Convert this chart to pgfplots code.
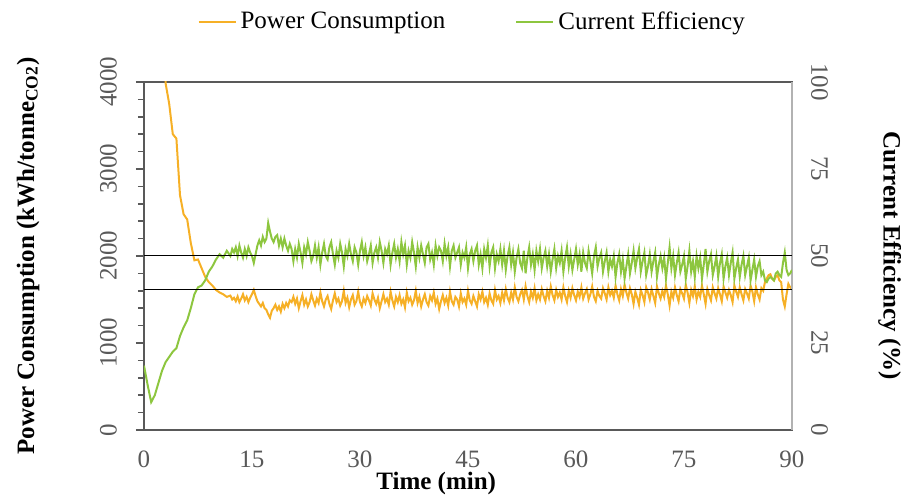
\documentclass[border=0pt]{standalone}
\usepackage{fontspec}
\setmainfont{Liberation Serif}
\usepackage{pgfplots}
\usepackage{pgfplotstable}
\pgfplotsset{compat=1.18}
\definecolor{pcOrange}{RGB}{246,176,38}
\definecolor{ceGreen}{RGB}{141,198,63}
\definecolor{axGray}{RGB}{89,89,89}

% time (min), power consumption (kWh/t CO2), current efficiency (%)
\pgfplotstableread{
t P E
0.0 9000 18.5
0.5 10500 13
1.0 11500 8
1.5 9500 10
2.0 7000 13.5
2.5 5200 17
3.0 3985 19.5
3.5 3750 21
4.0 3400 22.5
4.5 3350 23.5
5.0 2700 27
5.5 2480 29.5
6.0 2420 31.5
6.5 2150 35
7.0 1950 39
7.5 1960 41
8.0 1860 41.5
8.5 1760 43
9.0 1700 45.5
9.5 1660 47
10.0 1610 49
10.5 1580 50.5
11.0 1560 49.5
11.5 1530 51.5
12.00 1545 50
12.25 1500 52
12.50 1520 51
12.75 1480 52.5
13.00 1535 50
13.25 1470 53
13.50 1510 51
13.75 1560 49.5
14.00 1490 52
14.25 1530 50
14.50 1470 52.5
14.75 1520 51
15.00 1560 50
15.25 1610 48
15.50 1540 50.5
15.75 1480 53
16.00 1450 54.5
16.25 1420 53
16.50 1460 55.5
16.75 1400 54
17.00 1380 55
17.25 1330 59.5
17.50 1290 57
17.75 1370 55
18.00 1400 54
18.25 1440 55.5
18.50 1380 56
18.75 1420 53
19.00 1360 55
19.25 1450 52.5
19.50 1400 55
19.75 1460 53
20.00 1420 51.5
20.25 1490 53.5
20.50 1470 52
20.75 1530 48.5
21.00 1450 52
21.25 1510 49.5
21.50 1400 53.5
21.75 1480 51
22.00 1550 48
22.25 1440 52.5
22.50 1500 50.5
22.75 1420 54
23.00 1470 51.5
23.25 1560 48.5
23.50 1490 50
23.75 1430 53
24.00 1510 49.5
24.25 1460 52.5
24.50 1580 47.5
24.75 1480 51
25.00 1420 53.5
25.25 1500 50
25.50 1540 49
25.75 1450 52.5
26.00 1390 54
26.25 1490 50.5
26.50 1570 47.5
26.75 1470 51.5
27.00 1510 49.5
27.25 1430 53.5
27.50 1480 51
27.75 1600 47
28.00 1460 52
28.25 1520 50
28.50 1410 53.5
28.75 1500 50.5
29.00 1550 48.5
29.25 1440 52.5
29.50 1480 51
29.75 1590 47.5
30.00 1470 51.5
30.25 1420 54
30.50 1510 50
30.75 1460 52.5
31.00 1540 48.5
31.25 1490 50.5
31.50 1430 53
31.75 1570 48
32.00 1500 51
32.25 1450 52.5
32.50 1520 49.5
32.75 1400 54
33.00 1480 51.5
33.25 1560 48
33.50 1470 52
33.75 1510 50.5
34.00 1440 53
34.25 1590 47.5
34.50 1490 51
34.75 1420 53.5
35.00 1530 49.5
35.25 1470 52
35.50 1550 48.5
35.75 1450 54
36.00 1500 50.5
36.25 1410 53
36.50 1580 47.5
36.75 1480 51.5
37.00 1520 49.5
37.25 1440 54
37.50 1490 51
37.75 1600 47
38.00 1460 52.5
38.25 1530 49.5
38.50 1420 53
38.75 1500 50.5
39.00 1560 48
39.25 1470 52.5
39.50 1430 53.5
39.75 1540 49
40.00 1490 51
40.25 1580 47.5
40.50 1450 53
40.75 1510 50
41.00 1390 52.5
41.25 1480 51.5
41.50 1550 48.5
41.75 1460 53.5
42.00 1520 50
42.25 1430 52.5
42.50 1590 47
42.75 1480 51.5
43.00 1440 53
43.25 1530 49.5
43.50 1500 51
43.75 1420 52.5
44.00 1570 47.5
44.25 1470 51
44.50 1510 49.5
44.75 1440 52.5
45.00 1600 46.5
45.25 1490 50.5
45.50 1450 52
45.75 1540 48.5
46.00 1480 51.5
46.25 1420 53
46.50 1560 47.5
46.75 1500 50.5
47.00 1590 46.5
47.25 1470 52
47.50 1520 49.5
47.75 1440 53
48.00 1570 47
48.25 1490 51
48.50 1450 52.5
48.75 1610 46.5
49.00 1500 50.5
49.25 1540 48.5
49.50 1460 52
49.75 1580 47.5
50.00 1490 51.5
50.25 1620 46
50.50 1520 50
50.75 1470 52.5
51.00 1580 47.5
51.25 1500 51
51.50 1640 45.5
51.75 1530 49.5
52.00 1480 52
52.25 1560 48
52.50 1610 46.5
52.75 1500 51.5
53.00 1650 45
53.25 1540 49.5
53.50 1470 52.5
53.75 1590 47.5
54.00 1520 50.5
54.25 1630 46
54.50 1490 51.5
54.75 1560 48.5
55.00 1500 52
55.25 1620 46.5
55.50 1540 49.5
55.75 1480 51.5
56.00 1600 47
56.25 1520 50.5
56.50 1650 45.5
56.75 1550 49
57.00 1490 52
57.25 1610 46.5
57.50 1530 50
57.75 1580 48
58.00 1500 51.5
58.25 1640 45.5
58.50 1540 49.5
58.75 1470 52.5
59.00 1600 47
59.25 1520 50.5
59.50 1630 46
59.75 1550 49
60.00 1490 52
60.25 1590 47.5
60.50 1530 50.5
60.75 1640 45.5
61.00 1510 51
61.25 1570 48
61.50 1620 46.5
61.75 1500 51.5
62.00 1560 48.5
62.25 1650 45
62.50 1530 50
62.75 1480 52.5
63.00 1600 47
63.25 1540 49.5
63.50 1510 51
63.75 1630 45.5
64.00 1570 48.5
64.25 1500 51
64.50 1640 45.5
64.75 1550 49
65.00 1600 47
65.25 1520 50
65.50 1660 44
65.75 1560 48
66.00 1490 50.5
66.25 1620 45.5
66.50 1540 49
66.75 1670 43.5
67.00 1580 47
67.25 1510 50.5
67.50 1630 45
67.75 1560 48
68.00 1450 51.5
68.25 1590 46.5
68.50 1520 49.5
68.75 1440 52
69.00 1610 45.5
69.25 1550 48.5
69.50 1470 51
69.75 1640 44.5
70.00 1580 47
70.25 1500 50.5
70.50 1620 45.5
70.75 1540 48.5
71.00 1460 51
71.25 1650 44
71.50 1570 47.5
71.75 1510 50
72.00 1600 46.5
72.25 1530 49.5
72.50 1660 43.5
72.75 1560 48
73.00 1430 52.5
73.25 1590 46.5
73.50 1520 50
73.75 1640 44.5
74.00 1550 48
74.25 1480 51
74.50 1620 45.5
74.75 1570 47.5
75.00 1510 50
75.25 1670 43.5
75.50 1580 47
75.75 1460 51.5
76.00 1610 45.5
76.25 1540 48.5
76.50 1650 44
76.75 1500 50
77.00 1590 46.5
77.25 1530 49.5
77.50 1660 43.5
77.75 1560 47.5
78.00 1450 52
78.25 1620 45.5
78.50 1550 48.5
78.75 1490 50.5
79.00 1640 44.5
79.25 1570 47
79.50 1510 50
79.75 1630 44
80.00 1560 48
80.25 1480 50.5
80.50 1650 43.5
80.75 1580 47
81.00 1520 49.5
81.25 1610 44.5
81.50 1550 48
81.75 1470 51
82.00 1660 43.5
82.25 1590 46.5
82.50 1530 49
82.75 1640 44
83.00 1560 47.5
83.25 1490 50
83.50 1620 44.5
83.75 1570 47
84.00 1510 49.5
84.25 1660 43
84.50 1590 46
84.75 1480 49
85.00 1640 44
85.25 1560 47
85.50 1500 48.5
85.75 1630 44.5
86.00 1600 45.5
86.25 1700 43
86.50 1740 42.5
86.75 1780 43.5
87.00 1790 44
87.25 1740 43.5
87.50 1720 43
87.75 1760 45
88.00 1780 45.5
88.25 1720 44.5
88.50 1700 44
88.75 1500 48
89.00 1420 51
89.25 1560 46
89.50 1680 44.5
89.75 1640 45
90.00 1620 46
}\runtable

\begin{document}
\begin{tikzpicture}
\pgfplotsset{
  every axis/.append style={
    at={(0,0)}, anchor=south west, scale only axis,
    width=324pt, height=174pt,
    xmin=0, xmax=90,
    font=\fontsize{12.5}{14}\selectfont,
    /pgf/number format/assume math mode=true,
    /pgf/number format/1000 sep={},
    tick label style={color=axGray},
  },
}
\begin{axis}[
    ymin=0, ymax=4000,
    xtick={0,15,...,90},
    ytick={0,1000,...,4000},
    minor y tick num=4,
    ytick pos=left,
    xtick style={draw=none},
    tick align=outside,
    major tick length=4pt,
    minor tick length=3pt,
    ytick style={color=axGray, line width=0.8pt},
    axis line style={color=axGray, line width=1pt},
    yticklabel style={rotate=90, anchor=south},
    yticklabel shift=6pt,
    xticklabel shift=3pt,
    xlabel={\bfseries Time (min)},
    xlabel style={at={(axis description cs:0.451,-0.155)}, anchor=center},
    ylabel={\bfseries Power Consumption (kWh/tonne\textsubscript{CO2})},
    ylabel style={at={(axis description cs:-0.179,0.5)}, anchor=center},
    scaled y ticks=false,
]
\addplot[pcOrange, line width=1pt] table[x=t, y=P] {\runtable};
\end{axis}
\begin{axis}[
    ymin=0, ymax=100,
    axis x line=none,
    axis y line*=right,
    ytick={0,25,...,100},
    ytick style={draw=none},
    y axis line style={color=gray!60, line width=1pt},
    yticklabel style={rotate=-90, anchor=south},
    yticklabel shift=6pt,
    ylabel={\bfseries Current Efficiency (\%)},
    ylabel style={at={(axis description cs:1.151,0.5)}, anchor=center, rotate=180},
    legend columns=2,
    legend style={draw=none, fill=none, at={(axis description cs:0.508,1.172)},
      anchor=center, font=\fontsize{12.5}{14}\selectfont,
      /tikz/every even column/.append style={column sep=33pt}},
    legend image code/.code={\draw[#1] (0pt,0pt) -- (18.5pt,0pt);},
]
\addlegendimage{pcOrange, line width=1pt}
\addlegendentry{Power Consumption}
\addplot[ceGreen, line width=1pt] table[x=t, y=E] {\runtable};
\addlegendentry{Current Efficiency}
\addplot[black, line width=0.5pt, forget plot] coordinates {(0,50) (90,50)};
\addplot[black, line width=0.5pt, forget plot] coordinates {(0,40.25) (90,40.25)};
\end{axis}
\pgfresetboundingbox
\path[use as bounding box] (-72pt,-33.5pt) rectangle (378.5pt,215pt);
\end{tikzpicture}
\end{document}
